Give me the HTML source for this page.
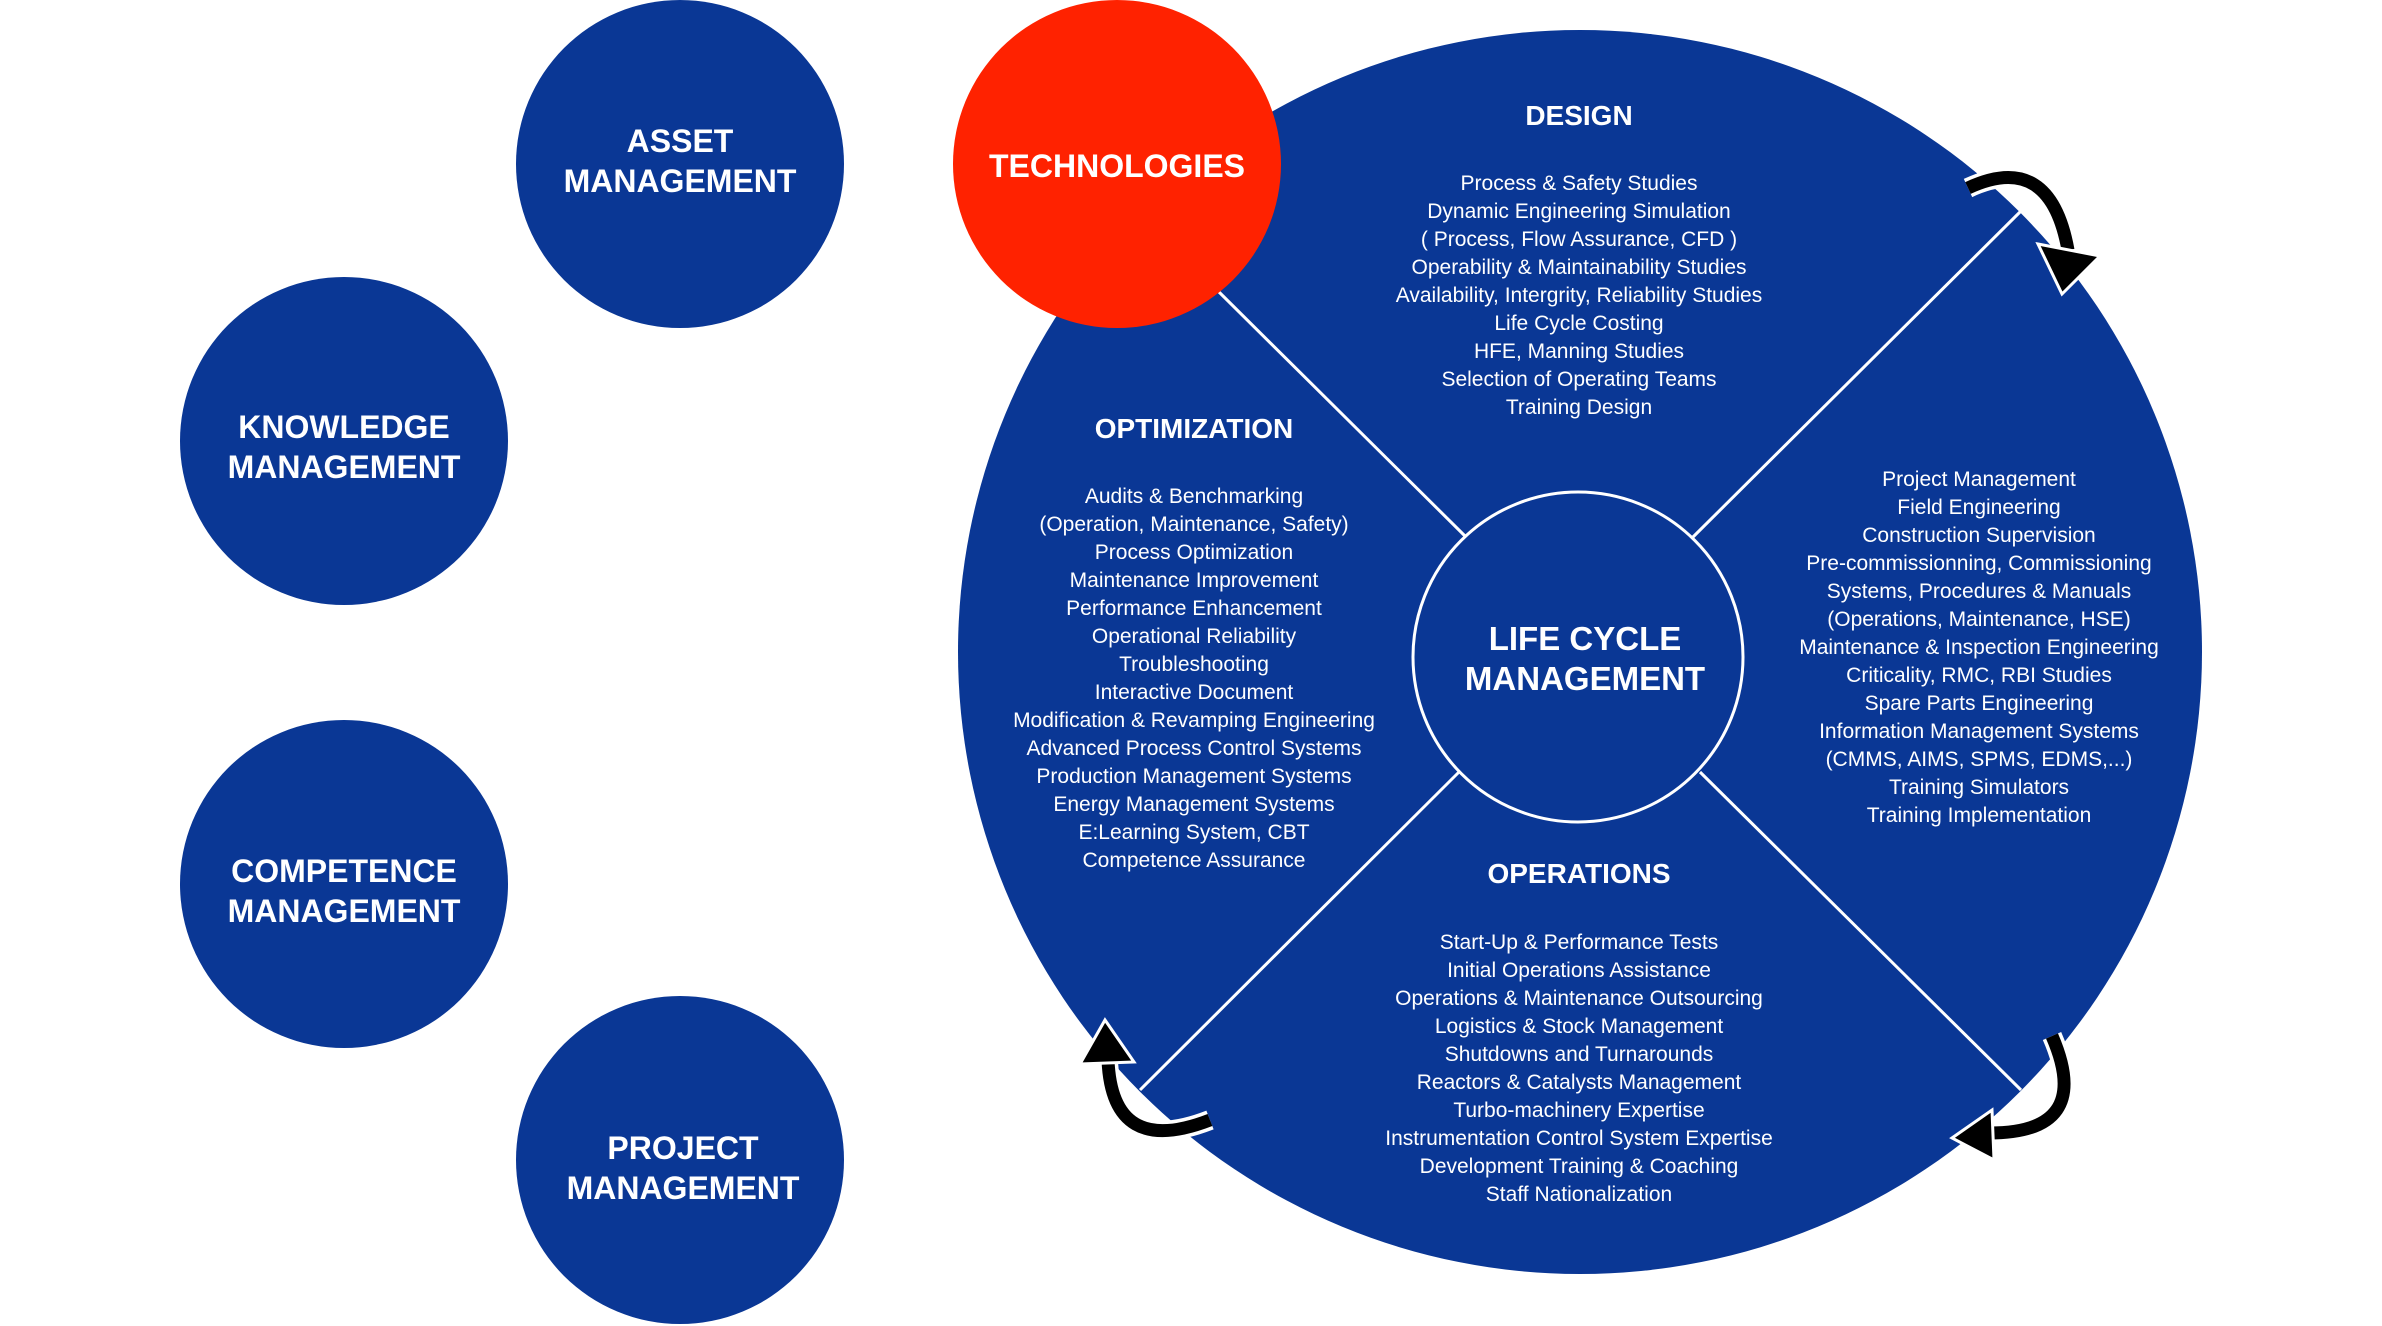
<!DOCTYPE html>
<html><head><meta charset="utf-8"><style>
html,body{margin:0;padding:0;background:#fff;}
svg{display:block;}
.h{font-family:"Liberation Sans",sans-serif;font-weight:bold;fill:#fff;text-anchor:middle;}
.t{font-family:"Liberation Sans",sans-serif;fill:#fff;text-anchor:middle;font-size:21px;}
</style></head><body>
<svg width="2382" height="1326" viewBox="0 0 2382 1326" xmlns="http://www.w3.org/2000/svg">
<circle cx="1580" cy="652" r="622" fill="#0a3795"/>
<g stroke="#fff" stroke-width="3">
<line x1="1219" y1="292" x2="1466" y2="537"/>
<line x1="1693" y1="537" x2="2021" y2="211"/>
<line x1="1700" y1="772" x2="2021" y2="1090"/>
<line x1="1459" y1="772" x2="1140" y2="1090"/>
</g>
<circle cx="1578" cy="657" r="165" fill="#0a3795" stroke="#fff" stroke-width="3"/>
<circle cx="1117" cy="164" r="164" fill="#ff2200"/>
<circle cx="680" cy="164" r="164" fill="#0a3795"/>
<circle cx="344" cy="441" r="164" fill="#0a3795"/>
<circle cx="344" cy="884" r="164" fill="#0a3795"/>
<circle cx="680" cy="1160" r="164" fill="#0a3795"/>

<text class="h" font-size="32" x="1117" y="177">TECHNOLOGIES</text>
<text class="h" font-size="32" x="680" y="152">ASSET</text>
<text class="h" font-size="32" x="680" y="192">MANAGEMENT</text>
<text class="h" font-size="32" x="344" y="438">KNOWLEDGE</text>
<text class="h" font-size="32" x="344" y="478">MANAGEMENT</text>
<text class="h" font-size="32" x="344" y="882">COMPETENCE</text>
<text class="h" font-size="32" x="344" y="922">MANAGEMENT</text>
<text class="h" font-size="32" x="683" y="1159">PROJECT</text>
<text class="h" font-size="32" x="683" y="1199">MANAGEMENT</text>
<text class="h" font-size="33" x="1585" y="650">LIFE CYCLE</text>
<text class="h" font-size="33" x="1585" y="690">MANAGEMENT</text>

<text class="h" font-size="28" x="1579" y="125">DESIGN</text>
<text class="h" font-size="28" x="1194" y="438">OPTIMIZATION</text>
<text class="h" font-size="28" x="1579" y="883">OPERATIONS</text>

<g class="t">
<text x="1579" y="190">Process &amp; Safety Studies</text>
<text x="1579" y="218">Dynamic Engineering Simulation</text>
<text x="1579" y="246">( Process, Flow Assurance, CFD )</text>
<text x="1579" y="274">Operability &amp; Maintainability Studies</text>
<text x="1579" y="302">Availability, Intergrity, Reliability Studies</text>
<text x="1579" y="330">Life Cycle Costing</text>
<text x="1579" y="358">HFE, Manning Studies</text>
<text x="1579" y="386">Selection of Operating Teams</text>
<text x="1579" y="414">Training Design</text>
</g>
<g class="t">
<text x="1194" y="503">Audits &amp; Benchmarking</text>
<text x="1194" y="531">(Operation, Maintenance, Safety)</text>
<text x="1194" y="559">Process Optimization</text>
<text x="1194" y="587">Maintenance Improvement</text>
<text x="1194" y="615">Performance Enhancement</text>
<text x="1194" y="643">Operational Reliability</text>
<text x="1194" y="671">Troubleshooting</text>
<text x="1194" y="699">Interactive Document</text>
<text x="1194" y="727">Modification &amp; Revamping Engineering</text>
<text x="1194" y="755">Advanced Process Control Systems</text>
<text x="1194" y="783">Production Management Systems</text>
<text x="1194" y="811">Energy Management Systems</text>
<text x="1194" y="839">E:Learning System, CBT</text>
<text x="1194" y="867">Competence Assurance</text>
</g>
<g class="t">
<text x="1979" y="486">Project Management</text>
<text x="1979" y="514">Field Engineering</text>
<text x="1979" y="542">Construction Supervision</text>
<text x="1979" y="570">Pre-commissionning, Commissioning</text>
<text x="1979" y="598">Systems, Procedures &amp; Manuals</text>
<text x="1979" y="626">(Operations, Maintenance, HSE)</text>
<text x="1979" y="654">Maintenance &amp; Inspection Engineering</text>
<text x="1979" y="682">Criticality, RMC, RBI Studies</text>
<text x="1979" y="710">Spare Parts Engineering</text>
<text x="1979" y="738">Information Management Systems</text>
<text x="1979" y="766">(CMMS, AIMS, SPMS, EDMS,...)</text>
<text x="1979" y="794">Training Simulators</text>
<text x="1979" y="822">Training Implementation</text>
</g>
<g class="t">
<text x="1579" y="949">Start-Up &amp; Performance Tests</text>
<text x="1579" y="977">Initial Operations Assistance</text>
<text x="1579" y="1005">Operations &amp; Maintenance Outsourcing</text>
<text x="1579" y="1033">Logistics &amp; Stock Management</text>
<text x="1579" y="1061">Shutdowns and Turnarounds</text>
<text x="1579" y="1089">Reactors &amp; Catalysts Management</text>
<text x="1579" y="1117">Turbo-machinery Expertise</text>
<text x="1579" y="1145">Instrumentation Control System Expertise</text>
<text x="1579" y="1173">Development Training &amp; Coaching</text>
<text x="1579" y="1201">Staff Nationalization</text>
</g>

<!-- arrows -->
<g fill="none" stroke-linecap="butt">
<path d="M1968,188 Q2050,150 2068,250" stroke="#fff" stroke-width="20"/>
<path d="M1968,188 Q2050,150 2068,250" stroke="#000" stroke-width="13"/>
<path d="M2052,1036 Q2095,1135 1985,1133" stroke="#fff" stroke-width="20"/>
<path d="M2052,1036 Q2095,1135 1985,1133" stroke="#000" stroke-width="13"/>
<path d="M1210,1120 Q1112,1158 1108,1060" stroke="#fff" stroke-width="20"/>
<path d="M1210,1120 Q1112,1158 1108,1060" stroke="#000" stroke-width="13"/>
</g>
<g fill="#000" stroke="#fff" stroke-width="3" stroke-linejoin="miter">
<polygon points="2038,244 2100,256 2062,294"/>
<polygon points="1992,1110 1994,1160 1952,1138"/>
<polygon points="1080,1064 1134,1062 1105,1020"/>
</g>
</svg>
</body></html>
